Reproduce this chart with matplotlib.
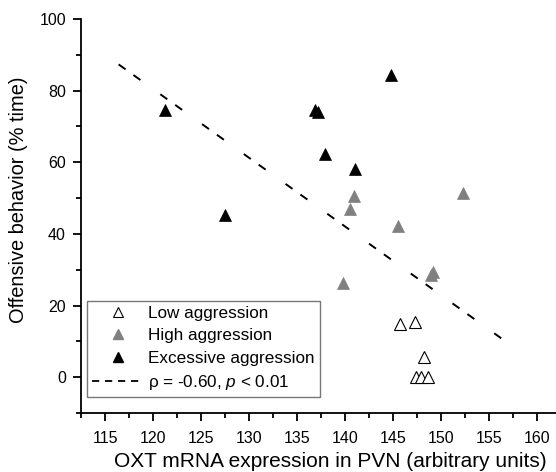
import matplotlib
matplotlib.use("Agg")
import matplotlib.pyplot as plt
from matplotlib.lines import Line2D
from matplotlib.ticker import MultipleLocator

plt.rcParams['font.family'] = ['Liberation Sans', 'DejaVu Sans']
plt.rcParams['mathtext.fontset'] = 'custom'
plt.rcParams['mathtext.rm'] = 'Liberation Sans'
plt.rcParams['mathtext.it'] = 'Liberation Sans:italic'

# data
low_x = [145.7, 147.3, 148.2, 147.4, 147.9, 148.7]
low_y = [14.9, 15.4, 5.6, 0.0, 0.0, 0.0]

high_x = [140.9, 140.5, 152.3, 145.5, 139.8, 149.0, 149.2]
high_y = [50.5, 47.0, 51.3, 42.1, 26.2, 28.5, 29.3]

exc_x = [121.2, 127.5, 144.8, 136.9, 137.2, 137.9, 141.0]
exc_y = [74.6, 45.4, 84.3, 74.5, 74.0, 62.2, 58.2]

fit_x = [116.4, 157.1]
fit_y = [87.3, 9.3]

fig = plt.figure(figsize=(5.56, 4.72), dpi=100)
ax = fig.add_axes([0.146, 0.125, 0.854, 0.835])

ax.plot(fit_x, fit_y, color='black', lw=1.4, dashes=(4.4, 5.0, 4.4, 12.6))
ax.plot(low_x, low_y, '^', ms=8, mfc='white', mec='black', mew=0.8, ls='none')
ax.plot(high_x, high_y, '^', ms=8, mfc='#808080', mec='#808080', mew=0.5, ls='none')
ax.plot(exc_x, exc_y, '^', ms=8, mfc='black', mec='black', mew=0.5, ls='none')

ax.set_xlim(112.5, 162)
ax.set_ylim(-10, 100)
ax.xaxis.set_minor_locator(MultipleLocator(2.5))
ax.yaxis.set_minor_locator(MultipleLocator(10))
ax.set_xticks(range(115, 161, 5))
ax.set_yticks(range(0, 101, 20))

for s in ['top', 'right']:
    ax.spines[s].set_visible(False)
for s in ['left', 'bottom']:
    ax.spines[s].set_linewidth(1.3)

ax.tick_params(which='major', direction='out', length=6, width=1.3, labelsize=11.5, pad=5)
ax.tick_params(which='minor', direction='out', length=3.5, width=1.3)
ax.tick_params(axis='x', pad=7)

ax.set_xlabel('OXT mRNA expression in PVN (arbitrary units)', fontsize=15)
ax.xaxis.set_label_coords(0.524, -0.1)
ax.set_ylabel('Offensive behavior (% time)', fontsize=14.4)
ax.yaxis.set_label_coords(-0.112, 0.54)

handles = [
    Line2D([], [], marker='^', ls='none', ms=6.5, mfc='white', mec='black', mew=0.8),
    Line2D([], [], marker='^', ls='none', ms=6.5, mfc='#808080', mec='#808080'),
    Line2D([], [], marker='^', ls='none', ms=6.5, mfc='black', mec='black'),
    Line2D([], [], color='black', lw=1.3, dashes=(4, 3.2)),
]
labels = ['Low aggression', 'High aggression', 'Excessive aggression',
          'ρ = -0.60, $p$ < 0.01']
leg = ax.legend(handles, labels, loc='lower left', bbox_to_anchor=(0.013, 0.041),
                fontsize=12.3, frameon=True, fancybox=False, handlelength=3.0,
                handletextpad=0.25, labelspacing=0.42, borderpad=0.3, borderaxespad=0)
leg.get_frame().set_edgecolor('#555555')
leg.get_frame().set_linewidth(1.0)

fig.savefig('out.png', dpi=100)
